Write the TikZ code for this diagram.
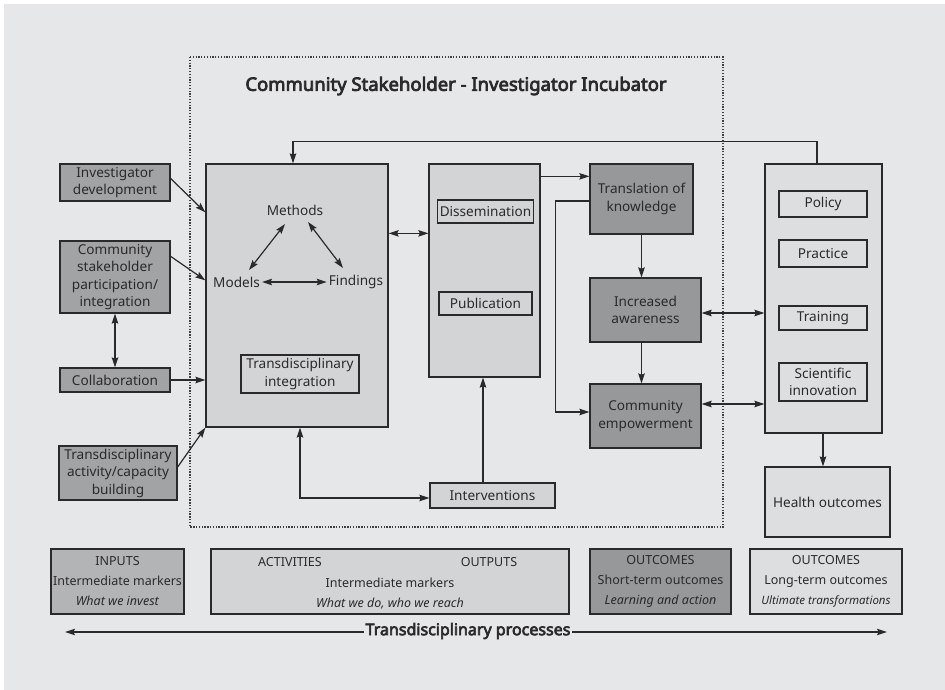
\documentclass[tikz,border=0pt]{standalone}
\usepackage{fontspec}
\setmainfont{Noto Sans}
\newfontfamily\boldsans{Noto Sans}[FakeBold=4]
\usetikzlibrary{arrows.meta,calc}

\definecolor{bgray}{HTML}{E6E7E9}
\definecolor{lightfill}{HTML}{D3D4D6}
\definecolor{paler}{HTML}{DDDEE0}
\definecolor{midfill}{HTML}{A2A3A5}
\definecolor{darkfill}{HTML}{97989A}
\definecolor{inputfill}{HTML}{B3B4B6}
\definecolor{ink}{HTML}{2A2A2A}

\begin{document}
\begin{tikzpicture}[x=1pt,y=-1pt,
  every node/.style={text=ink, font=\fontsize{13.6}{17.5}\selectfont},
  box/.style={draw=ink, line width=1.3pt, align=center, inner sep=2pt},
  lbox/.style={box, fill=lightfill},
  pbox/.style={box, fill=paler},
  mbox/.style={box, fill=midfill},
  dbox/.style={box, fill=darkfill},
  ibox/.style={box, fill=inputfill},
  tag/.style={inner sep=2pt},
  tip/.tip={Stealth[length=10pt,width=6.5pt,inset=1.5pt]},
  arr/.style={draw=ink, line width=1.2pt, -tip},
  darr/.style={draw=ink, line width=1.2pt, tip-tip},
  foot/.style={font=\fontsize{12.5}{20}\selectfont},
]
\useasboundingbox (0,0) rectangle (945,690);
\fill[bgray] (4,4) rectangle (945,690);

% incubator frame and heading
\draw[ink!90, line width=1.4pt, dash pattern=on 1.3pt off 1.5pt] (190,57) rectangle (723,527);
\node[font=\boldsans\fontsize{18.5}{21}\selectfont] (title) at (456,86) {Community Stakeholder - Investigator Incubator};

% inputs column
\node[mbox, minimum width=110pt, minimum height=37pt] (inv) at (115,182.5) {Investigator\\development};
\node[mbox, minimum width=110pt, minimum height=72pt] (csp) at (115,277) {Community\\stakeholder\\participation/\\integration};
\node[mbox, minimum width=110pt, minimum height=24pt] (col) at (115,380) {Collaboration};
\node[mbox, minimum width=118pt, minimum height=54pt] (tac) at (118,473) {Transdisciplinary\\activity/capacity\\building};

% research core
\node[lbox, minimum width=182pt, minimum height=263pt] (core) at (297,295.5) {};
\node[tag] (methods) at (295,210) {Methods};
\node[tag] (models) at (236.5,282) {Models};
\node[tag] (findings) at (356,282) {Findings};
\node[lbox, minimum width=118pt, minimum height=38pt] (tdi) at (300,374) {Transdisciplinary\\integration};

% dissemination column
\node[lbox, minimum width=111pt, minimum height=213pt] (dis) at (484.5,270.5) {};
\node[lbox, minimum width=93pt, minimum height=23pt] (dsm) at (485.5,211.5) {Dissemination};
\node[lbox, minimum width=93pt, minimum height=23pt] (pub) at (485.5,303.5) {Publication};
\node[lbox, minimum width=125pt, minimum height=25pt] (intv) at (492.5,495.5) {Interventions};

% short-term outcomes
\node[dbox, minimum width=103pt, minimum height=70pt] (tok) at (641.5,199) {Translation of\\knowledge};
\node[dbox, minimum width=111pt, minimum height=64pt] (ia) at (645.5,310) {Increased\\awareness};
\node[dbox, minimum width=111pt, minimum height=64pt] (ce) at (645.5,416) {Community\\empowerment};

% long-term outcomes
\node[pbox, minimum width=117pt, minimum height=269pt] (rc) at (823.5,298.5) {};
\node[pbox, minimum width=88pt, minimum height=26pt] (pol) at (823,204) {Policy};
\node[pbox, minimum width=88pt, minimum height=27pt] (pra) at (823,253.5) {Practice};
\node[pbox, minimum width=88pt, minimum height=24pt] (tra) at (823,318) {Training};
\node[pbox, minimum width=88pt, minimum height=38pt] (sci) at (823,382) {Scientific\\innovation};
\node[pbox, minimum width=125pt, minimum height=70pt] (health) at (827.5,502) {Health outcomes};

% legend row
\node[ibox, foot, minimum width=133pt, minimum height=65pt] (inputs) at (117.5,581.5)
  {INPUTS\\Intermediate markers\\\textit{What we invest}};
\node[lbox, foot, minimum width=358pt, minimum height=65pt] (act) at (390,581.5)
  {\strut\\Intermediate markers\\\textit{What we do, who we reach}};
\node[foot, inner sep=0pt] (actlbl) at ([xshift=-100pt,yshift=19.5pt]act.center) {ACTIVITIES};
\node[foot, inner sep=0pt] (outlbl) at ([xshift=99pt,yshift=19.5pt]act.center) {OUTPUTS};
\node[dbox, foot, minimum width=141pt, minimum height=65pt] (st) at (660.5,581.5)
  {OUTCOMES\\Short-term outcomes\\\textit{Learning and action}};
\node[pbox, foot, minimum width=152pt, minimum height=65pt] (lt) at (826,581.5)
  {OUTCOMES\\Long-term outcomes\\{\fontsize{11.5}{20}\selectfont\textit{Ultimate transformations}}};

% process axis
\coordinate (pl) at (65,632);
\coordinate (pr) at (887,632);
\draw[darr] (pl) -- (pr);
\node[fill=bgray, inner sep=1.5pt, font=\boldsans\fontsize{16}{19}\selectfont] (proc) at (468,631) {Transdisciplinary processes};

% inputs feeding the core
\draw[arr] ([yshift=4pt]inv.east) -- ([yshift=-49pt]core.north west);
\draw[arr] ([yshift=-16pt]csp.north east) -- ([yshift=-117pt]core.north west);
\draw[arr] (col.east) -- (col.east -| core.west);
\draw[arr] ([yshift=6pt]tac.east) -- (core.south west);
\draw[darr] (csp.south) -- (col.north);

% methods / models / findings cycle
\draw[darr] ([xshift=-10pt,yshift=-14pt]methods.center) -- ([xshift=12.5pt,yshift=12pt]models.center);
\draw[darr] ([xshift=13pt,yshift=-12pt]methods.center) -- ([xshift=-13pt,yshift=14pt]findings.center);
\draw[darr] (models.east) -- (findings.west);

% core, dissemination and interventions
\draw[darr] ([yshift=-70pt]core.north east) -- ([yshift=-70pt]dis.north west);
\draw[arr] ([xshift=-9.5pt]intv.north) -- ([xshift=-9.5pt]intv.north |- dis.south);
\draw[darr] ([xshift=3pt]core.south) |- ([yshift=-2.5pt]intv.west);

% feedback from long-term outcomes
\draw[arr] ([xshift=-6.5pt]rc.north) |- ([xshift=-4pt,yshift=22pt]core.north) -- ([xshift=-4pt]core.north);

% translation chain
\draw[arr] ([yshift=-13pt]dis.north east) -- ([yshift=-13pt]tok.north west);
\draw[arr] ([yshift=-2pt]tok.west) -- ++(-34,0) |- ([yshift=4pt]ce.west);
\draw[arr] (tok.south) -- (tok.south |- ia.north);
\draw[arr] (ia.south -| tok.south) -- (ce.north -| tok.south);
\draw[darr] ([yshift=-3pt]ia.east) -- ([yshift=-3pt]ia.east -| rc.west);
\draw[darr] ([yshift=12pt]ce.east) -- ([yshift=12pt]ce.east -| rc.west);
\draw[arr] ([xshift=-0.5pt]rc.south) -- ([xshift=-0.5pt]rc.south |- health.north);
\end{tikzpicture}
\end{document}
